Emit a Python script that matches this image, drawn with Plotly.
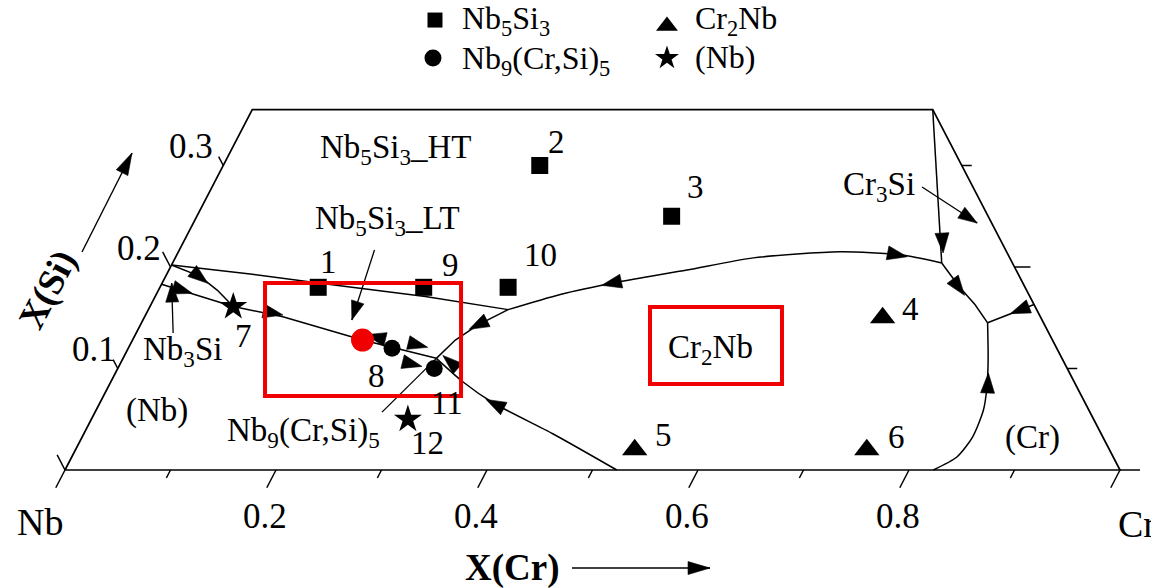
import numpy as np
import plotly.graph_objects as go

# ------------------------------------------------------------------
# DATA  (mole fractions X(Cr), X(Si); Nb = balance)
# ------------------------------------------------------------------
nb5si3_id = ["1", "2", "3", "9", "10"]
nb5si3_cr = [0.15, 0.30, 0.45, 0.25, 0.33]
nb5si3_si = [0.18, 0.30, 0.25, 0.18, 0.18]

cr2nb_id = ["4", "5", "6"]
cr2nb_cr = [0.70, 0.53, 0.75]
cr2nb_si = [0.15, 0.02, 0.02]

nb9_id = ["8", "11"]
nb9_cr = [0.25, 0.30]
nb9_si = [0.12, 0.10]

nbss_id = ["7", "12"]
nbss_cr = [0.079, 0.30]
nbss_si = [0.161, 0.05]

red_cr = [0.218]
red_si = [0.128]

# univariant lines of the liquidus projection
curve_A_cr = [0.000, 0.079, 0.150, 0.256, 0.341]
curve_A_si = [0.202, 0.193, 0.184, 0.171, 0.158]
curve_B_cr = [0.000, 0.032, 0.056, 0.079, 0.131, 0.218, 0.297]
curve_B_si = [0.202, 0.191, 0.177, 0.161, 0.151, 0.128, 0.110]
curve_L_cr = [0.000, 0.079]
curve_L_si = [0.183, 0.161]
curve_C_cr = [0.523, 0.445, 0.373, 0.334, 0.297]
curve_C_si = [0.000, 0.0355, 0.066, 0.0867, 0.110]
curve_D_cr = [0.341, 0.320, 0.306, 0.297]
curve_D_si = [0.158, 0.143, 0.128, 0.110]
curve_E_cr = [0.341, 0.383, 0.431, 0.491, 0.548, 0.627, 0.686, 0.729]
curve_E_si = [0.158, 0.173, 0.185, 0.197, 0.209, 0.215, 0.212, 0.204]
curve_F_cr = [0.645, 0.729]
curve_F_si = [0.355, 0.204]
curve_G_cr = [0.729, 0.758, 0.781, 0.802]
curve_G_si = [0.204, 0.180, 0.163, 0.145]
curve_H_cr = [0.837, 0.802]
curve_H_si = [0.163, 0.145]
curve_I_cr = [0.823, 0.839, 0.844, 0.841, 0.833, 0.821, 0.802]
curve_I_si = [0.000, 0.0128, 0.0325, 0.0591, 0.0818, 0.108, 0.145]

# arrows on the lines: (X(Cr), X(Si), line, segment, sense)
arrow_cr = [0.033, 0.023, 0.120, 0.229, 0.273, 0.277, 0.312, 0.375, 0.320, 0.426, 0.683, 0.720, 0.757, 0.826, 0.832]
arrow_si = [0.190, 0.177, 0.1547, 0.131, 0.1232, 0.1044, 0.1064, 0.065, 0.143, 0.184, 0.212, 0.2236, 0.180, 0.1576, 0.0857]
arrow_line = ["B", "L", "B", "B", "B", "B", "C", "C", "D", "E", "E", "F", "G", "H", "I"]
arrow_seg = [1, 0, 3, 5, 5, 5, 3, 1, 0, 1, 6, 0, 0, 0, 4]
arrow_dir = [1, 1, 1, -1, 1, 1, 1, 1, 1, -1, 1, 1, 1, 1, 1]

# label pointers (start -> tip)
ptr_LT_cr, ptr_LT_si = [0.185, 0.198], [0.2167, 0.1478]
ptr_N3_cr, ptr_N3_si = [0.035, 0.009], [0.135, 0.1842]
ptr_C3_cr, ptr_C3_si = [0.673, 0.743], [0.2788, 0.2433]
ptr_N9_cr, ptr_N9_si = [0.272, 0.297], [0.057, 0.110]

SI_TOP = 0.355
xcr_ticks = [0.1 * k for k in range(11)]
xcr_ticklabels = ["0.2", "0.4", "0.6", "0.8"]
xcr_ticklabel_vals = [0.2, 0.4, 0.6, 0.8]
si_ticks = [0.0, 0.1, 0.2, 0.3]
si_ticklabels = ["0.1", "0.2", "0.3"]
si_ticklabel_vals = [0.1, 0.2, 0.3]

# ------------------------------------------------------------------
# geometry / style
# ------------------------------------------------------------------
W_FIG, H_FIG = 1151, 588
SX, SY = 1055.0, 1015.0
X0 = -65 / SX
Y1 = 470 / SY
XR = [X0, X0 + W_FIG / SX]
YR = [Y1 - H_FIG / SY, Y1]
FONT = "Liberation Serif, Times New Roman, serif"
FS = 32


def tern(cr, si):
    cr = np.asarray(cr, float)
    si = np.asarray(si, float)
    return cr + si / 2.0, si


def to_px(x, y):
    return (x - X0) * SX, (Y1 - y) * SY


def from_px(px, py):
    return px / SX + X0, Y1 - py / SY


fig = go.Figure()


def add_line(x, y, width=1.5, shape="linear"):
    fig.add_trace(go.Scatter(x=list(x), y=list(y), mode="lines",
                             line=dict(color="black", width=width, shape=shape, smoothing=0.7),
                             hoverinfo="skip", showlegend=False))


heads_x, heads_y = [], []


def add_head(x, y, dx, dy, L=20.0, Wd=7.0, tip=False):
    px, py = to_px(x, y)
    qx, qy = to_px(x + dx, y + dy)
    ux, uy = qx - px, qy - py
    n = np.hypot(ux, uy)
    ux, uy = ux / n, uy / n
    if tip:
        tx, ty = px, py
    else:
        tx, ty = px + ux * L / 2, py + uy * L / 2
    bx, by = tx - ux * L, ty - uy * L
    nx, ny = -uy, ux
    for a, b in [(tx, ty), (bx + nx * Wd, by + ny * Wd), (bx - nx * Wd, by - ny * Wd), (tx, ty)]:
        X, Y = from_px(a, b)
        heads_x.append(X)
        heads_y.append(Y)
    heads_x.append(None)
    heads_y.append(None)


# ---- frame (trapezoid) ----
fx, fy = tern([0, 1, 1 - SI_TOP, 0, 0], [0, 0, SI_TOP, SI_TOP, 0])
add_line(fx, fy, width=1.7)

# ---- ticks ----
tx, ty = [], []
def seg(p, q):
    tx.extend([p[0], q[0], None]); ty.extend([p[1], q[1], None])

for k, c in enumerate(xcr_ticks):
    L = 20 if k % 2 == 0 else 9
    d = L / 1144.0
    seg(tern(c, 0), tern(c, -d))
for k, s in enumerate(si_ticks):
    L = 17 if k % 2 == 0 else 10
    d = L / 1144.0
    seg(tern(0, s), tern(-d, s + d))
    Lr = 20 if k == 0 else (16 if k % 2 == 0 else 10)
    seg(tern(1 - s, s), tern(1 - s + Lr / SX, s))
add_line(tx, ty, width=1.5)

# ---- univariant lines ----
curves = {
    "A": (curve_A_cr, curve_A_si), "B": (curve_B_cr, curve_B_si), "L": (curve_L_cr, curve_L_si),
    "C": (curve_C_cr, curve_C_si), "D": (curve_D_cr, curve_D_si), "E": (curve_E_cr, curve_E_si),
    "F": (curve_F_cr, curve_F_si), "G": (curve_G_cr, curve_G_si), "H": (curve_H_cr, curve_H_si),
    "I": (curve_I_cr, curve_I_si),
}
for key, (c, s) in curves.items():
    x, y = tern(c, s)
    add_line(x, y, width=1.5, shape="spline" if key in ("E", "I", "C") else "linear")

for c, s, key, k, sense in zip(arrow_cr, arrow_si, arrow_line, arrow_seg, arrow_dir):
    cc, ss = curves[key]
    ax_, ay_ = tern(cc[k], ss[k])
    bx_, by_ = tern(cc[k + 1], ss[k + 1])
    x, y = tern(c, s)
    add_head(float(x), float(y), sense * float(bx_ - ax_), sense * float(by_ - ay_))

# ---- pointers ----
for pc, ps, head in [(ptr_LT_cr, ptr_LT_si, True), (ptr_N3_cr, ptr_N3_si, True),
                     (ptr_C3_cr, ptr_C3_si, True), (ptr_N9_cr, ptr_N9_si, False)]:
    x, y = tern(pc, ps)
    add_line(x, y, width=1.3)
    if head:
        add_head(float(x[1]), float(y[1]), float(x[1] - x[0]), float(y[1] - y[0]), L=19, Wd=6.5, tip=True)

# ---- axis-direction arrows (plot coordinates) ----
for (xa, ya, xb, yb) in [(0.0161, 0.2148, 0.0635, 0.3123), (0.4806, -0.0966, 0.6114, -0.0966)]:
    add_line([xa, xb], [ya, yb], width=1.4)
    add_head(xb, yb, xb - xa, yb - ya, L=22, Wd=6.5, tip=True)

fig.add_trace(go.Scatter(x=heads_x, y=heads_y, mode="lines", fill="toself", fillcolor="black",
                         line=dict(color="black", width=0.6), hoverinfo="skip", showlegend=False))

# ---- experimental alloys ----
def add_pts(c, s, symbol, size, color="black"):
    x, y = tern(c, s)
    fig.add_trace(go.Scatter(x=x, y=y, mode="markers",
                             marker=dict(symbol=symbol, size=size, color=color, line=dict(width=0)),
                             hoverinfo="skip", showlegend=False))
    return x, y

sq = add_pts(nb5si3_cr, nb5si3_si, "square", 17)
tr = add_pts(cr2nb_cr, cr2nb_si, "triangle-up", 22)
ci = add_pts(nb9_cr, nb9_si, "circle", 17)
st = add_pts(nbss_cr, nbss_si, "star", 21)
add_pts(red_cr, red_si, "circle", 23, color="#f00000")

annots = []
def txt(text, x, y, xanchor="center", yanchor="middle", xshift=0, yshift=0, size=FS, bold=False, angle=0):
    annots.append(dict(text=("<b>%s</b>" % text) if bold else text, x=x, y=y, xref="x", yref="y",
                       showarrow=False, xanchor=xanchor, yanchor=yanchor, xshift=xshift, yshift=yshift,
                       textangle=angle, font=dict(family=FONT, size=size, color="black")))

# point numbers
num_shift = {"1": (10, 25), "2": (17, 24), "3": (24, 29), "9": (27, 22), "10": (32, 32),
             "4": (28, 9), "5": (29, 15), "6": (30, 13), "8": (-16, -28), "11": (13, -34),
             "7": (10, -29), "12": (20, -24)}
for ids, (xs, ys) in [(nb5si3_id, sq), (cr2nb_id, tr), (nb9_id, ci), (nbss_id, st)]:
    for i, x, y in zip(ids, xs, ys):
        dx, dy = num_shift[i]
        txt(i, float(x), float(y), xshift=dx, yshift=dy, size=33)

# region labels
txt("Nb<sub>5</sub>Si<sub>3</sub>_HT", 0.3137, 0.3153, size=33)
txt("Nb<sub>5</sub>Si<sub>3</sub>_LT", 0.3057, 0.2463, size=33)
txt("Nb<sub>3</sub>Si", 0.1109, 0.1163, size=33)
txt("(Nb)", 0.0872, 0.0591, size=33)
txt("Nb<sub>9</sub>(Cr,Si)<sub>5</sub>", 0.2256, 0.0365, size=33)
txt("Cr<sub>2</sub>Nb", 0.6114, 0.1192, size=33)
txt("Cr<sub>3</sub>Si", 0.7716, 0.2798, size=33)
txt("(Cr)", 0.9175, 0.0325, size=33)

# tick labels
for lab, v in zip(xcr_ticklabels, xcr_ticklabel_vals):
    x, y = tern(v, 0)
    txt(lab, float(x), float(y), xshift=-11, yshift=-46, size=35)
si_label_xshift = [0, -8, -8]
for lab, v, xs in zip(si_ticklabels, si_ticklabel_vals, si_label_xshift):
    x, y = tern(0, v)
    txt(lab, float(x), float(y), xanchor="right", xshift=xs, yshift=19, size=35)
x, y = tern(0, 0)
txt("Nb", float(x), float(y), xshift=-25, yshift=-52, size=38)
x, y = tern(1, 0)
txt("Cr", float(x), float(y), xanchor="left", xshift=-4, yshift=-54, size=38)

# axis titles
txt("X(Si)", -0.0165, 0.1773, size=37, bold=True, angle=-62.5)
txt("X(Cr)", 0.4237, -0.0966, size=37, bold=True)

# ---- legend (drawn) ----
leg_x = [0.3507, 0.3488, 0.5706, 0.5706]
leg_y = [0.4433, 0.4059, 0.4374, 0.4059]
leg_sym = ["square", "circle", "triangle-up", "star"]
leg_size = [15, 17, 19, 18]
for x, y, sy, sz in zip(leg_x, leg_y, leg_sym, leg_size):
    fig.add_trace(go.Scatter(x=[x], y=[y], mode="markers",
                             marker=dict(symbol=sy, size=sz, color="black", line=dict(width=0)),
                             hoverinfo="skip", showlegend=False))
txt("Nb<sub>5</sub>Si<sub>3</sub>", 0.3744, 0.4424, xanchor="left", size=32)
txt("Nb<sub>9</sub>(Cr,Si)<sub>5</sub>", 0.3744, 0.4039, xanchor="left", size=32)
txt("Cr<sub>2</sub>Nb", 0.5953, 0.4424, xanchor="left", size=32)
txt("(Nb)", 0.5953, 0.4069, xanchor="left", size=32)

# ---- red highlight boxes ----
shapes = [
    dict(type="rect", xref="x", yref="y", x0=0.1896, x1=0.3754, y0=0.0729, y1=0.1842,
         line=dict(color="#f00000", width=4)),
    dict(type="rect", xref="x", yref="y", x0=0.5545, x1=0.6796, y0=0.0847, y1=0.1606,
         line=dict(color="#f00000", width=4)),
]

fig.update_layout(
    width=W_FIG, height=H_FIG, margin=dict(l=0, r=0, t=0, b=0),
    paper_bgcolor="white", plot_bgcolor="white",
    xaxis=dict(range=XR, visible=False, fixedrange=True),
    yaxis=dict(range=YR, visible=False, fixedrange=True),
    showlegend=False, annotations=annots, shapes=shapes,
)

fig.write_html("out.html")
